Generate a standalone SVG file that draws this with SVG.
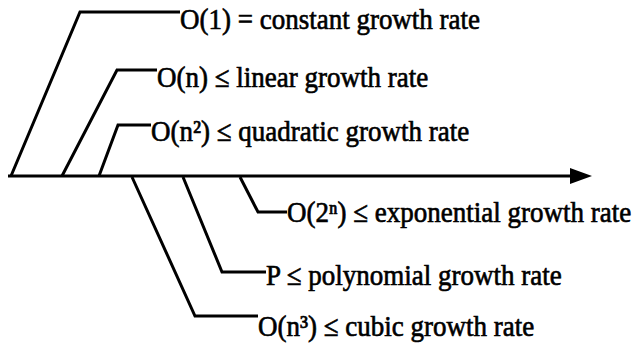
<svg xmlns="http://www.w3.org/2000/svg" width="637" height="343" viewBox="0 0 637 343">
<style>
.lbl{font-family:"Liberation Serif","Times New Roman",Times,serif;font-size:27px;fill:#000;stroke:#000;stroke-width:0.6}
.con{fill:none;stroke:#000;stroke-width:3;stroke-linejoin:miter}
</style>
<rect width="637" height="343" fill="#fff"/>
<g id="connectors">
<path class="con" d="M8,176 H571"/>
<polygon points="570,168 592,176 570,184" fill="#000"/>
<path class="con" d="M11,176 L80,12 H180"/>
<path class="con" d="M62,176 L117,70 H157"/>
<path class="con" d="M99,176 L118,125 H151"/>
<path class="con" d="M240,177 L258,212 H287"/>
<path class="con" d="M183,177 L222,272 H266"/>
<path class="con" d="M132,177 L195,316 H258"/>
</g>
<g id="constant"><text class="lbl" transform="translate(180,29) scale(1,1.1)">O(1) = constant growth rate</text></g>
<g id="linear"><text class="lbl" transform="translate(157,87) scale(1,1.1)">O(n) ≤ linear growth rate</text></g>
<g id="quadratic"><text class="lbl" transform="translate(151,141) scale(1,1.1)">O(n²) ≤ quadratic growth rate</text></g>
<g id="exponential"><text class="lbl" transform="translate(287,222) scale(1,1.1)">O(2ⁿ) ≤ exponential growth rate</text></g>
<g id="polynomial"><text class="lbl" transform="translate(266,285) scale(1,1.1)">P ≤ polynomial growth rate</text></g>
<g id="cubic"><text class="lbl" transform="translate(258,336) scale(1,1.1)">O(n³) ≤ cubic growth rate</text></g>
</svg>
